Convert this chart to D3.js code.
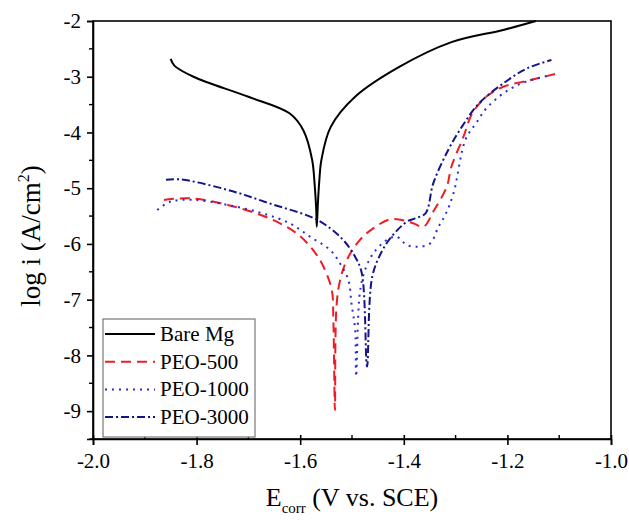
<!DOCTYPE html>
<html>
  <head>
    <meta charset="utf-8" />
    <title>Polarization curves</title>
    <script src="https://d3js.org/d3.v7.min.js"></script>
    <style>
        body{
            margin:0;
            background:#fff;
        }
        svg text{
            font-family:"Liberation Serif","DejaVu Serif",serif !important;
            fill:#000;
        }
    </style>
  </head>
  <body>
    <svg id="chart"></svg>

    <script>
      // potential (V vs SCE) and log current density
      var bareE    = [-1.850, -1.843, -1.806, -1.700, -1.620, -1.594, -1.577, -1.572, -1.569, -1.568, -1.566, -1.563, -1.559, -1.541, -1.494, -1.408, -1.308, -1.208, -1.145];
      var bareLogI = [-2.68, -2.80, -3.00, -3.36, -3.66, -3.96, -4.49, -4.95, -5.40, -5.69, -5.30, -4.85, -4.49, -3.90, -3.36, -2.82, -2.38, -2.16, -2.00];

      var peo500E    = [-1.863, -1.813, -1.740, -1.660, -1.607, -1.575, -1.555, -1.539, -1.536, -1.533, -1.530, -1.523, -1.510, -1.485, -1.459, -1.427, -1.404, -1.382, -1.362, -1.343, -1.317, -1.308, -1.285, -1.268, -1.241, -1.208, -1.155, -1.108];
      var peo500LogI = [-5.21, -5.18, -5.30, -5.54, -5.81, -6.11, -6.41, -6.83, -7.37, -8.98, -7.13, -6.65, -6.29, -5.93, -5.72, -5.56, -5.57, -5.63, -5.69, -5.42, -4.97, -4.61, -4.08, -3.66, -3.36, -3.18, -3.06, -2.95];

      var peo1000E    = [-1.876, -1.850, -1.806, -1.740, -1.673, -1.620, -1.581, -1.542, -1.523, -1.507, -1.501, -1.494, -1.492, -1.485, -1.475, -1.459, -1.433, -1.414, -1.394, -1.372, -1.349, -1.333, -1.320, -1.304, -1.281, -1.261, -1.235, -1.181, -1.115];
      var peo1000LogI = [-5.39, -5.24, -5.21, -5.30, -5.45, -5.63, -5.87, -6.11, -6.35, -6.65, -7.07, -7.54, -8.38, -6.89, -6.47, -6.17, -5.93, -5.87, -6.02, -6.05, -5.99, -5.69, -5.48, -5.09, -4.13, -3.84, -3.51, -3.15, -2.97];

      var peo3000E    = [-1.859, -1.833, -1.740, -1.660, -1.567, -1.520, -1.494, -1.481, -1.471, -1.461, -1.441, -1.421, -1.394, -1.378, -1.358, -1.343, -1.314, -1.288, -1.255, -1.208, -1.162, -1.115];
      var peo3000LogI = [-4.85, -4.84, -5.03, -5.27, -5.57, -5.90, -6.23, -6.53, -8.20, -6.59, -6.11, -5.84, -5.60, -5.54, -5.45, -4.91, -4.31, -3.90, -3.48, -3.12, -2.85, -2.70];

      var seriesNames = ["Bare Mg", "PEO-500", "PEO-1000", "PEO-3000"];
      var seriesColors = ["#000000", "#ee1c24", "#2b2bd6", "#14148a"];
      var seriesDash = [null, "10,6", "2,5", "8,3,2,3"];

      var xTicks = [-2.0, -1.8, -1.6, -1.4, -1.2, -1.0];
      var yTicks = [-9, -8, -7, -6, -5, -4, -3, -2];

      var width = 629;
      var height = 521;
      var margin = {top: 21, right: 18, bottom: 82, left: 93};
      var serif = "'Liberation Serif','DejaVu Serif',serif";

      var svg = d3.select("#chart")
        .attr("width", width)
        .attr("height", height);

      var x = d3.scaleLinear()
        .domain([-2, -1])
        .range([margin.left, width - margin.right]);

      var y = d3.scaleLinear()
        .domain([-9.5, -2])
        .range([height - margin.bottom, margin.top]);

      var series = [
        {E: bareE, L: bareLogI},
        {E: peo500E, L: peo500LogI},
        {E: peo1000E, L: peo1000LogI},
        {E: peo3000E, L: peo3000LogI}
      ];

      // curves
      var line = d3.line()
        .x(function(d){ return x(d[0]); })
        .y(function(d){ return y(d[1]); })
        .curve(d3.curveCatmullRom.alpha(0.5));

      var curves = svg.append("g");
      series.forEach(function(s, i){
        var pts = s.E.map(function(e, j){ return [e, s.L[j]]; });
        curves.append("path")
          .datum(pts)
          .attr("d", line)
          .attr("fill", "none")
          .attr("stroke", seriesColors[i])
          .attr("stroke-width", 2)
          .attr("stroke-dasharray", seriesDash[i]);
      });

      // frame
      svg.append("rect")
        .attr("x", x(-2)).attr("y", y(-2))
        .attr("width", x(-1) - x(-2)).attr("height", y(-9.5) - y(-2))
        .attr("fill", "none").attr("stroke", "#000").attr("stroke-width", 1.6);

      // x axis
      var xAxis = svg.append("g")
        .attr("transform", "translate(0," + y(-9.5) + ")");
      xAxis.call(d3.axisBottom(x).tickValues(xTicks).tickSize(6).tickFormat(d3.format(".1f")));
      xAxis.attr("font-family", serif);
      xAxis.selectAll(".tick line").attr("y1", -4).attr("stroke-width", 1.6);
      xAxis.select(".domain").attr("stroke-width", 1.6);
      xAxis.selectAll(".tick text")
        .attr("y", 14)
        .style("font-size", "21px")
        .text(function(d){ return d3.format(".1f")(d).replace("\u2212", "-"); });
      xAxis.selectAll(".minor")
        .data(d3.range(-1.9, -1.0, 0.2))
        .enter().append("line")
        .attr("x1", function(d){ return x(d); })
        .attr("x2", function(d){ return x(d); })
        .attr("y1", 0).attr("y2", -4)
        .attr("stroke", "#000").attr("stroke-width", 1.4);

      // y axis
      var yAxis = svg.append("g")
        .attr("transform", "translate(" + x(-2) + ",0)");
      yAxis.call(d3.axisLeft(y).tickValues(yTicks).tickSize(6).tickFormat(d3.format("d")));
      yAxis.attr("font-family", serif);
      yAxis.selectAll(".tick line").attr("stroke-width", 1.6);
      yAxis.select(".domain").attr("stroke-width", 1.6);
      yAxis.selectAll(".tick text")
        .attr("x", -12)
        .style("font-size", "21px")
        .text(function(d){ return String(d); });
      yAxis.selectAll(".minor")
        .data(d3.range(-9.5, -2, 1))
        .enter().append("line")
        .attr("x1", 0).attr("x2", -4)
        .attr("y1", function(d){ return y(d); })
        .attr("y2", function(d){ return y(d); })
        .attr("stroke", "#000").attr("stroke-width", 1.4);
      svg.selectAll(".domain").attr("stroke", "#000");

      // axis titles
      var xt = svg.append("text")
        .attr("x", (x(-2) + x(-1)) / 2)
        .attr("y", 506)
        .attr("text-anchor", "middle")
        .attr("font-family", serif)
        .style("font-size", "26px");
      xt.append("tspan").text("E");
      xt.append("tspan").attr("dy", 7).style("font-size", "15px").text("corr");
      xt.append("tspan").attr("dy", -7).text(" (V vs. SCE)");

      var yt = svg.append("text")
        .attr("transform", "translate(40,236) rotate(-90)")
        .attr("text-anchor", "middle")
        .attr("font-family", serif)
        .style("font-size", "27px");
      yt.append("tspan").text("log i (A/cm");
      yt.append("tspan").attr("dy", -11).style("font-size", "16px").text("2");
      yt.append("tspan").attr("dy", 11).text(")");

      // legend
      var legend = svg.append("g").attr("transform", "translate(103,319)");
      legend.append("rect")
        .attr("width", 152).attr("height", 118)
        .attr("fill", "#fff").attr("stroke", "#777").attr("stroke-width", 1.2);
      seriesNames.forEach(function(name, i){
        var ly = 15 + i * 27.7;
        legend.append("line")
          .attr("x1", 2).attr("x2", 52)
          .attr("y1", ly).attr("y2", ly)
          .attr("stroke", seriesColors[i])
          .attr("stroke-width", 2)
          .attr("stroke-dasharray", seriesDash[i]);
        legend.append("text")
          .attr("x", 57).attr("y", ly + 7)
          .attr("font-family", serif)
          .style("font-size", "21px")
          .text(name);
      });
    </script>
  </body>
</html>
